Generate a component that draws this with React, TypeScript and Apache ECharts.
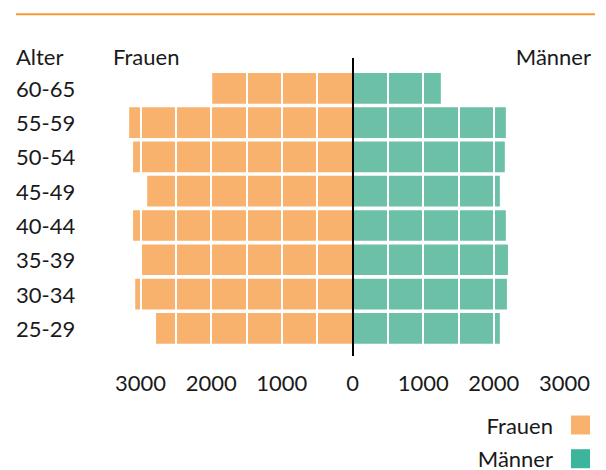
import React, { useEffect, useRef } from "react";
import * as echarts from "echarts";

const categories = ["25-29", "30-34", "35-39", "40-44", "45-49", "50-54", "55-59", "60-65"];
const frauen = [2780, 3075, 2990, 3105, 2905, 3105, 3160, 1985];
const maenner = [2085, 2185, 2200, 2170, 2085, 2155, 2170, 1250];
const seriesNames = ["Frauen", "Männer"];
const headerTexts = { age: "Alter", left: "Frauen", right: "Männer" };

const FONT = "Lato";
const TEXT = "#1a1a1a";
const ORANGE = "#f8b26e";
const GREEN = "#6cc0a8";
const GREEN_LEGEND = "#3cb59d";

export default function App() {
  const ref = useRef<HTMLDivElement>(null);
  useEffect(() => {
    if (!ref.current) return;
    const chart = echarts.init(ref.current, null, { renderer: "svg" });
    chart.setOption({
      animation: false,
      textStyle: { fontFamily: FONT },
      grid: { left: 140.5, right: 41.5, top: 71.2, bottom: 124.5, containLabel: false },
      xAxis: {
        type: "value",
        min: -3000,
        max: 3000,
        interval: 500,
        z: 5,
        axisLine: { show: false },
        axisTick: { show: false },
        splitLine: { show: true, lineStyle: { color: "#ffffff", width: 2 } },
        axisLabel: {
          margin: 26,
          fontSize: 22,
          fontFamily: FONT,
          color: TEXT,
          formatter: (v: number) => (v % 1000 === 0 ? String(Math.abs(v)) : ""),
        },
      },
      yAxis: {
        type: "category",
        data: categories,
        axisLine: { show: false },
        axisTick: { show: false },
        splitLine: { show: false },
        axisLabel: {
          align: "left",
          margin: 124.5,
          fontSize: 22,
          fontFamily: FONT,
          color: TEXT,
        },
      },
      legend: {
        orient: "vertical",
        right: 16,
        top: 414,
        height: 60,
        padding: 0,
        align: "right",
        itemWidth: 19,
        itemHeight: 19,
        itemGap: 11.7,
        icon: "rect",
        textStyle: { fontSize: 22, fontFamily: FONT, color: TEXT, padding: [0, 13, 0, 0] },
        data: [
          { name: seriesNames[0], itemStyle: { color: ORANGE } },
          { name: seriesNames[1], itemStyle: { color: GREEN_LEGEND } },
        ],
      },
      series: [
        {
          name: seriesNames[0],
          type: "bar",
          stack: "total",
          clip: false,
          barCategoryGap: "10.5%",
          itemStyle: { color: ORANGE },
          data: frauen.map((v) => -v),
        },
        {
          name: seriesNames[1],
          type: "bar",
          stack: "total",
          clip: false,
          barCategoryGap: "10.5%",
          itemStyle: { color: GREEN },
          data: maenner,
        },
      ],
      graphic: [
        {
          type: "line",
          z: 100,
          shape: { x1: 16, y1: 14.3, x2: 595, y2: 14.3 },
          style: { stroke: "#f39a36", lineWidth: 2 },
        },
        {
          type: "line",
          z: 100,
          shape: { x1: 353, y1: 58, x2: 353, y2: 356 },
          style: { stroke: "#000000", lineWidth: 2 },
        },
        {
          type: "text",
          x: 16,
          y: 56,
          style: { text: headerTexts.age, fontSize: 22, fontFamily: FONT, fill: TEXT, verticalAlign: "middle", align: "left" },
        },
        {
          type: "text",
          x: 113,
          y: 56,
          style: { text: headerTexts.left, fontSize: 22, fontFamily: FONT, fill: TEXT, verticalAlign: "middle", align: "left" },
        },
        {
          type: "text",
          x: 591,
          y: 56,
          style: { text: headerTexts.right, fontSize: 22, fontFamily: FONT, fill: TEXT, verticalAlign: "middle", align: "right" },
        },
      ],
    });
    return () => chart.dispose();
  }, []);
  return (
    <div
      ref={ref}
      style={{ position: "fixed", left: 0, top: 0, width: 606, height: 470, background: "#ffffff" }}
    />
  );
}
